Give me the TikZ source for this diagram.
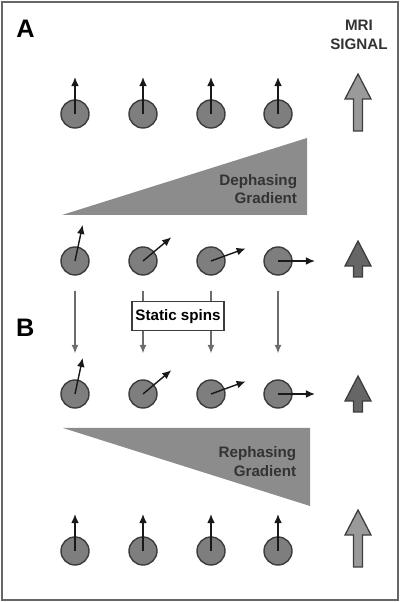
\documentclass[tikz,border=0pt]{standalone}
\usepackage{fontspec}
\setmainfont{Liberation Sans}
\usetikzlibrary{arrows.meta, positioning, calc}
\definecolor{ballgray}{HTML}{7E7E7E}
\definecolor{edgegray}{HTML}{3C3C3C}
\definecolor{wedgegray}{HTML}{8C8C8C}
\definecolor{biggray}{HTML}{9A9A9A}
\definecolor{smallgray}{HTML}{666666}
\definecolor{textgray}{HTML}{333333}
\tikzset{
    spinball/.style={circle, draw=edgegray, fill=ballgray, line width=1pt, minimum size=0.7cm, inner sep=0pt},
    spinarr/.style={-{Latex[length=6.5pt, width=5.5pt]}, line width=1pt, black!90},
    flowarr/.style={-{Latex[length=6pt, width=5pt]}, line width=0.8pt, gray!85!black},
    spin/.pic = {
    \node[spinball] (-c) {};
    \draw[spinarr] (-c.center) -- (#1:0.925);
    },
    signal/.pic = {
    \draw[pic actions, line width=0.9pt, draw=edgegray]
      (-0.1125,0) -- (-0.1125,#1-0.625) -- (-0.325,#1-0.625) -- (0,#1)
      -- (0.325,#1-0.625) -- (0.1125,#1-0.625) -- (0.1125,0) -- cycle;
    },
    boldtext/.style={font=\bfseries\fontsize{10.8pt}{13pt}\selectfont},
}

\begin{document}
\begin{tikzpicture}
    \useasboundingbox (0,0) rectangle (10,15.05);
    \draw[gray!80!black, line width=1.2pt] (0.05,0.05) rectangle (9.95,15.0);

    % panel letters and header
    \node[font=\bfseries\fontsize{18pt}{20pt}\selectfont] (labA) at (0.64,14.34) {A};
    \node[font=\bfseries\fontsize{18pt}{20pt}\selectfont] (labB) at (0.63,6.85) {B};
    \node[boldtext, align=center, text=textgray, font=\bfseries\fontsize{10.8pt}{14pt}\selectfont] (head) at (8.975,14.175) {MRI\\SIGNAL};

    % gradient wedges
    \fill[wedgegray] (1.55,9.675) -- (7.675,9.675) -- (7.675,11.6) -- cycle;
    \node[boldtext, align=right, anchor=east, text=textgray] (deph) at (7.55,10.325) {Dephasing\\Gradient};
    \fill[wedgegray] (1.575,4.35) -- (7.75,4.35) -- (7.75,2.4) -- cycle;
    \node[boldtext, align=right, anchor=east, text=textgray] (reph) at (7.53,3.51) {Rephasing\\Gradient};

    % spins
    \pic (s11) at (1.875,12.2) {spin=90};
    \pic (s12) at (3.575,12.2) {spin=90};
    \pic (s13) at (5.275,12.2) {spin=90};
    \pic (s14) at (6.95,12.2) {spin=90};

    \pic (s21) at (1.875,8.525) {spin=78};
    \pic (s22) at (3.575,8.525) {spin=40};
    \pic (s23) at (5.275,8.525) {spin=20};
    \pic (s24) at (6.95,8.525) {spin=0};

    \pic (s31) at (1.875,5.2) {spin=78};
    \pic (s32) at (3.575,5.2) {spin=40};
    \pic (s33) at (5.275,5.2) {spin=20};
    \pic (s34) at (6.95,5.2) {spin=0};

    \pic (s41) at (1.875,1.275) {spin=90};
    \pic (s42) at (3.575,1.275) {spin=90};
    \pic (s43) at (5.275,1.275) {spin=90};
    \pic (s44) at (6.95,1.275) {spin=90};

    % motion between the two rows
    \draw[flowarr, shorten <=0.375cm, shorten >=0.65cm] (s21-c) -- (s31-c);
    \draw[flowarr, shorten <=0.375cm, shorten >=0.65cm] (s22-c) -- (s32-c);
    \draw[flowarr, shorten <=0.375cm, shorten >=0.65cm] (s23-c) -- (s33-c);
    \draw[flowarr, shorten <=0.375cm, shorten >=0.65cm] (s24-c) -- (s34-c);
    \node[boldtext, draw=edgegray, line width=0.8pt, fill=white, minimum width=2.3cm, minimum height=0.725cm, inner sep=1pt] (static) at (4.45,7.14) {Static spins};

    % signal arrows
    \pic[fill=biggray] (sig1) at (8.95,11.775) {signal=1.425};
    \pic[fill=smallgray] (sig2) at (8.95,8.125) {signal=0.9};
    \pic[fill=smallgray] (sig3) at (8.95,4.75) {signal=0.9};
    \pic[fill=biggray] (sig4) at (8.95,0.875) {signal=1.425};
\end{tikzpicture}
\end{document}
